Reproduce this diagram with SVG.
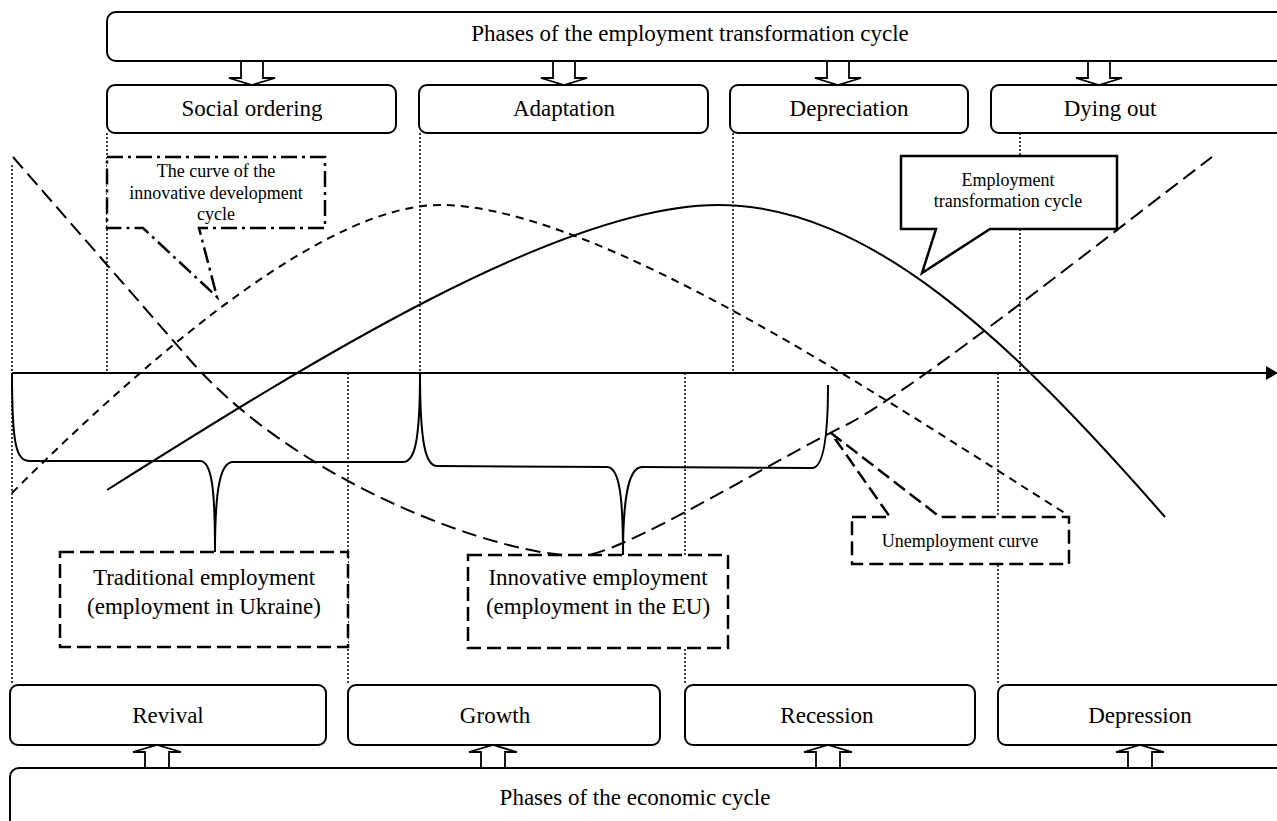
<svg xmlns="http://www.w3.org/2000/svg" width="1277" height="821" viewBox="0 0 1277 821">
<style>
.box{fill:#fff;stroke:#000;stroke-width:2}
.arr{fill:#fff;stroke:#000;stroke-width:1.8;stroke-linejoin:miter}
.lbl{font-family:"Liberation Serif","Times New Roman",serif;font-size:23px;text-anchor:middle;fill:#000}
.sm{font-size:18px}
.dot{stroke:#000;stroke-width:1.5;stroke-dasharray:2 2;fill:none}
.crv{stroke:#000;stroke-width:2;fill:none}
.sdash{stroke-dasharray:8 6}
.ldash{stroke-dasharray:15 7}
.dd{fill:#fff;stroke:#000;stroke-width:2.5;stroke-dasharray:14 6}
.dashdot{fill:#fff;stroke:#000;stroke-width:2.5;stroke-dasharray:16 5 3 5}
.call{fill:#fff;stroke:#000;stroke-width:2.5;stroke-linejoin:miter}
</style>
<defs>
<marker id="ah" markerWidth="12" markerHeight="14" refX="11" refY="7" orient="auto" markerUnits="userSpaceOnUse">
<path d="M0,0 L12,7 L0,14 Z" fill="#000"/>
</marker>
</defs>
<rect width="1277" height="821" fill="#fff"/>

<g id="guides">
<line class="dot" x1="12" y1="165" x2="12" y2="685"/>
<line class="dot" x1="107" y1="133" x2="107" y2="373"/>
<line class="dot" x1="420" y1="133" x2="420" y2="373"/>
<line class="dot" x1="733" y1="133" x2="733" y2="373"/>
<line class="dot" x1="1020" y1="133" x2="1020" y2="373"/>
<line class="dot" x1="348" y1="373" x2="348" y2="685"/>
<line class="dot" x1="685" y1="373" x2="685" y2="685"/>
<line class="dot" x1="998" y1="373" x2="998" y2="685"/>
</g>

<g id="connectors">
<!-- unemployment curve (long dashes) -->
<path class="crv ldash" d="M13,157 L190,360 C300,485 500,556 580,556 C620,556 770,462 850,423 C920,385 1112,233 1212,157"/>
<!-- innovative development cycle curve (short dashes) -->
<path class="crv sdash" d="M12,493 C162,343 330,205 440,205 C600,205 900,410 1068,515"/>
<!-- employment transformation cycle (solid) -->
<path class="crv" d="M107,490 C307,364 560,205 718,205 C870,205 1010,340 1165,517"/>
<!-- axis -->
<line class="crv" x1="12" y1="373" x2="1277" y2="373" marker-end="url(#ah)"/>
<!-- braces -->
<path class="crv" d="M12,373 C12,445 16,461 30,461 L200,461 C212,461 215,490 215,552 C215,490 220,462 233,462 L403,462 C414,462 420,445 420,373 C420,445 426,466 437,466 L607,467 C620,467 623,500 623,555 C623,500 628,467 642,467 L812,468 C822,468 828,445 828,385"/>
<!-- top hollow arrows -->
<polygon class="arr" points="241,61 241,78 229,78 252,85 275,78 263,78 263,61"/>
<polygon class="arr" points="553,61 553,78 541,78 564,85 587,78 575,78 575,61"/>
<polygon class="arr" points="827,61 827,78 815,78 838,85 861,78 849,78 849,61"/>
<polygon class="arr" points="1088,61 1088,78 1076,78 1099,85 1122,78 1110,78 1110,61"/>
<!-- bottom hollow arrows -->
<polygon class="arr" points="145,768 145,752 133,752 157,745 181,752 169,752 169,768"/>
<polygon class="arr" points="481,768 481,752 469,752 493,745 517,752 505,752 505,768"/>
<polygon class="arr" points="816,768 816,752 804,752 828,745 852,752 840,752 840,768"/>
<polygon class="arr" points="1128,768 1128,752 1116,752 1140,745 1164,752 1152,752 1152,768"/>
</g>

<g id="top-header">
<rect class="box" x="107" y="12" width="1200" height="49" rx="9"/>
<text class="lbl" x="690" y="41">Phases of the employment transformation cycle</text>
</g>
<g id="social-ordering">
<rect class="box" x="107" y="85" width="289" height="48" rx="8"/>
<text class="lbl" x="252" y="116">Social ordering</text>
</g>
<g id="adaptation">
<rect class="box" x="419" y="85" width="289" height="48" rx="8"/>
<text class="lbl" x="564" y="116">Adaptation</text>
</g>
<g id="depreciation">
<rect class="box" x="730" y="85" width="238" height="48" rx="8"/>
<text class="lbl" x="849" y="116">Depreciation</text>
</g>
<g id="dying-out">
<rect class="box" x="991" y="85" width="310" height="48" rx="8"/>
<text class="lbl" x="1110" y="116">Dying out</text>
</g>

<g id="innovative-curve-callout">
<path class="dashdot" d="M107,157 L325,157 L325,228 L199,228 L217,297 L143,228 L107,228 Z"/>
<text class="lbl sm" x="216" y="177">The curve of the</text>
<text class="lbl sm" x="216" y="199">innovative development</text>
<text class="lbl sm" x="216" y="220">cycle</text>
</g>

<g id="employment-cycle-callout">
<path class="call" d="M901,156 L1117,156 L1117,229 L990,229 L922,273 L936,229 L901,229 Z"/>
<text class="lbl sm" x="1008" y="186">Employment</text>
<text class="lbl sm" x="1008" y="207">transformation cycle</text>
</g>

<g id="unemployment-callout">
<path class="dd" d="M852,517 L890,517 L831,433 L940,517 L1069,517 L1069,564 L852,564 Z"/>
<text class="lbl sm" x="960" y="547">Unemployment curve</text>
</g>

<g id="traditional-employment">
<rect class="dd" x="60" y="552" width="288" height="95"/>
<text class="lbl" x="204" y="585">Traditional employment</text>
<text class="lbl" x="204" y="614">(employment in Ukraine)</text>
</g>

<g id="innovative-employment">
<rect class="dd" x="468" y="555" width="260" height="93"/>
<text class="lbl" x="598" y="585">Innovative employment</text>
<text class="lbl" x="598" y="614">(employment in the EU)</text>
</g>

<g id="revival">
<rect class="box" x="10" y="685" width="316" height="60" rx="8"/>
<text class="lbl" x="168" y="723">Revival</text>
</g>
<g id="growth">
<rect class="box" x="348" y="685" width="312" height="60" rx="8"/>
<text class="lbl" x="495" y="723">Growth</text>
</g>
<g id="recession">
<rect class="box" x="685" y="685" width="290" height="60" rx="8"/>
<text class="lbl" x="827" y="723">Recession</text>
</g>
<g id="depression">
<rect class="box" x="998" y="685" width="310" height="60" rx="8"/>
<text class="lbl" x="1140" y="723">Depression</text>
</g>
<g id="bottom-header">
<rect class="box" x="10" y="768" width="1300" height="80" rx="9"/>
<text class="lbl" x="635" y="805">Phases of the economic cycle</text>
</g>
</svg>
